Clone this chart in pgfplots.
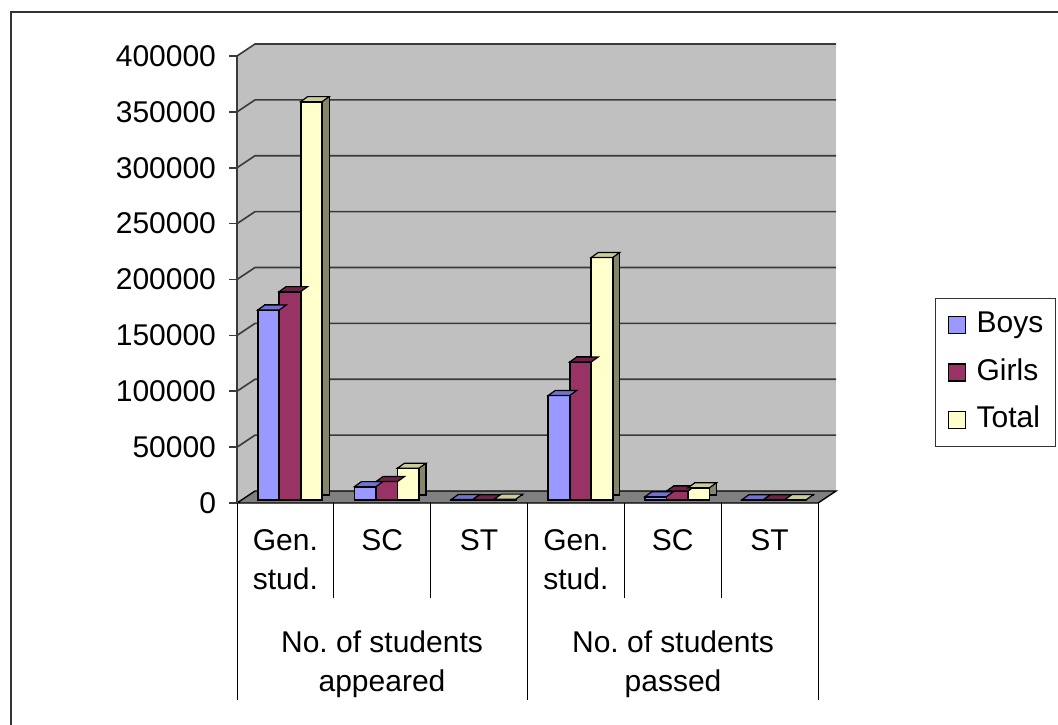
\documentclass[border=0pt]{standalone}
\usepackage{pgfplots}
\pgfplotsset{compat=1.18}
\usepackage{fontspec}
\setmainfont{Liberation Sans}

\definecolor{boys}{HTML}{9999FF}
\definecolor{boystop}{HTML}{7272CC}
\definecolor{boysside}{HTML}{5C5C99}
\definecolor{girls}{HTML}{993366}
\definecolor{girlstop}{HTML}{6B2447}
\definecolor{girlsside}{HTML}{5C1F3D}
\definecolor{total}{HTML}{FFFFCC}
\definecolor{totaltop}{HTML}{CCCC99}
\definecolor{totalside}{HTML}{858568}
\definecolor{wall}{HTML}{C0C0C0}
\definecolor{floor}{HTML}{808080}
\definecolor{gridc}{HTML}{3A3A3A}
\definecolor{framec}{HTML}{333333}

% top face of a bar, drawn at the top centre of its front face
\pgfdeclareplotmark{topface}{%
  \pgfpathmoveto{\pgfpoint{-5.375pt}{0pt}}%
  \pgfpathlineto{\pgfpoint{5.375pt}{0pt}}%
  \pgfpathlineto{\pgfpoint{8.875pt}{2.5pt}}%
  \pgfpathlineto{\pgfpoint{-1.875pt}{2.5pt}}%
  \pgfpathclose
  \pgfusepathqfillstroke}

% Boys, Girls, Total per category
\pgfplotstableread{
x     boys    girls   total
0.5   170000  186500  356500
1.5   12000   16500   28500
2.5   500     300     800
3.5   93500   123500  217000
4.5   3000    8000    11000
5.5   200     150     350
}\results

\begin{document}
\frenchspacing
\begin{tikzpicture}[font=\fontsize{15}{19.5}\selectfont]
% canvas in pixel units, origin top left
\begin{scope}[x=0.5pt,y=-0.5pt]
  % outer frame
  \draw[framec, line width=0.8pt] (11,740) -- (11,12) -- (1070,12);
  % left wall, back wall and floor
  \fill[wall] (237,503) -- (237,56) -- (255,44) -- (255,491) -- cycle;
  \fill[wall] (255,44) rectangle (836,491);
  \filldraw[fill=floor, draw=black, line width=0.7pt]
      (237,503) -- (255,491) -- (836,491) -- (818,503) -- cycle;
  % gridlines on the walls
  \foreach \k in {1,...,8}{
    \pgfmathsetmacro{\yf}{503-55.875*\k}
    \draw[gridc, line width=0.8pt] (237,\yf) -- (255,\yf-12) -- (836,\yf-12);
  }
  % front value axis
  \draw[gridc, line width=0.8pt] (237,503) -- (237,56);
  % category separators
  \draw[black, line width=0.5pt]
    (237,503) -- (237,700)
    (333.8,503) -- (333.8,598)
    (430.7,503) -- (430.7,598)
    (527.5,503) -- (527.5,700)
    (624.3,503) -- (624.3,598)
    (721.2,503) -- (721.2,598)
    (818,503) -- (818,700);
  % group labels
  \node[align=center] at (382,664) {No. of students\\appeared};
  \node[align=center] at (673,664) {No. of students\\passed};
\end{scope}

\begin{axis}[
  at={(118.5pt,-251.5pt)}, anchor=south west,
  scale only axis, width=290.5pt, height=223.5pt,
  xmin=0, xmax=6, ymin=0, ymax=400000,
  clip=false,
  axis line style={draw=none},
  xtick={0.5,1.5,2.5,3.5,4.5,5.5},
  xticklabels={{Gen.\\stud.},SC,ST,{Gen.\\stud.},SC,ST},
  xticklabel style={align=center, anchor=north, yshift=-9.5pt},
  x tick style={draw=none},
  ytick={0,50000,...,400000},
  ytick pos=left,
  ytick align=outside,
  major tick length=4pt,
  y tick style={draw=gridc, line width=0.8pt},
  scaled y ticks=false,
  yticklabel style={/pgf/number format/fixed, /pgf/number format/1000 sep={}, xshift=-3pt},
  /pgf/number format/assume math mode=true,
  legend style={at={(rel axis cs:1.2014,0.4586)}, anchor=north west,
    draw=framec, line width=0.5pt, inner xsep=6pt, inner ysep=6pt,
    row sep=9.25pt, font=\fontsize{15}{19.5}\selectfont,
    nodes={inner sep=0pt, text height=11pt, text depth=3.5pt}},
  legend cell align=left,
  legend image code/.code={%
    \draw[#1, draw=black, line width=0.6pt] (0pt,-4.25pt) rectangle (8.5pt,4.25pt);
    \path (14pt,0pt);},
  bar width=10.75pt,
]
  % side faces, offset by the depth of the bars
  \addplot[ybar, bar shift=0pt, xshift=-5pt, yshift=4pt,
    fill=boysside, draw=black, line width=0.6pt, forget plot] table[x=x, y=boys] {\results};
  \addplot[ybar, bar shift=0pt, xshift=5.75pt, yshift=4pt,
    fill=girlsside, draw=black, line width=0.6pt, forget plot] table[x=x, y=girls] {\results};
  \addplot[ybar, bar shift=0pt, xshift=16.5pt, yshift=4pt,
    fill=totalside, draw=black, line width=0.6pt, forget plot] table[x=x, y=total] {\results};
  % front faces with their top faces
  \addplot[ybar, bar shift=0pt, xshift=-8.5pt, yshift=1.5pt,
    fill=boys, draw=black, line width=0.9pt, forget plot,
    mark=topface, mark options={fill=boystop, draw=black, line width=0.6pt}]
    table[x=x, y=boys] {\results};
  \addplot[ybar, bar shift=0pt, xshift=2.25pt, yshift=1.5pt,
    fill=girls, draw=black, line width=0.9pt, forget plot,
    mark=topface, mark options={fill=girlstop, draw=black, line width=0.6pt}]
    table[x=x, y=girls] {\results};
  \addplot[ybar, bar shift=0pt, xshift=13pt, yshift=1.5pt,
    fill=total, draw=black, line width=0.9pt, forget plot,
    mark=topface, mark options={fill=totaltop, draw=black, line width=0.6pt}]
    table[x=x, y=total] {\results};
  \addlegendimage{fill=boys}\addlegendentry{Boys}
  \addlegendimage{fill=girls}\addlegendentry{Girls}
  \addlegendimage{fill=total}\addlegendentry{Total}
\end{axis}
\pgfresetboundingbox
\useasboundingbox (0,0) rectangle (529pt,-362pt);
\end{tikzpicture}
\end{document}
